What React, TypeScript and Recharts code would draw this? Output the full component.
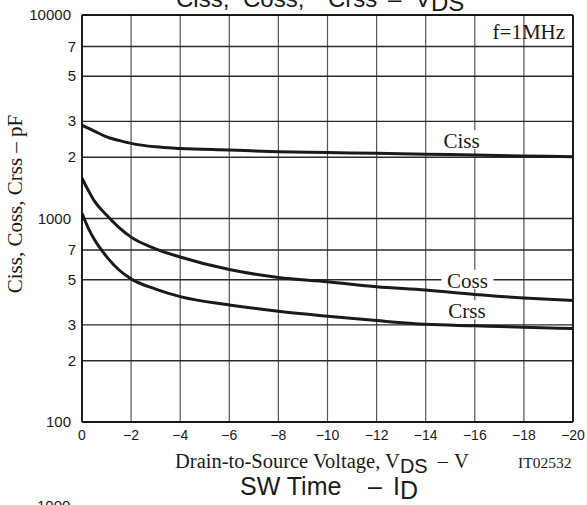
import React from "react";
import { CartesianGrid, Line, LineChart, ReferenceDot, XAxis, YAxis } from "recharts";

// drain-source voltage (V) and capacitances (pF)
const vds = [0, -0.25, -0.5, -1, -1.5, -2, -3, -4, -6, -8, -10, -12, -14, -16, -18, -20];
const ciss = [2870, 2780, 2690, 2520, 2420, 2340, 2250, 2210, 2170, 2130, 2110, 2090, 2070, 2050, 2030, 2010];
const coss = [1580, 1380, 1220, 1040, 905, 810, 710, 647, 561, 513, 489, 462, 445, 423, 407, 395];
const crss = [1060, 900, 790, 650, 560, 505, 450, 413, 376, 350, 331, 315, 302, 297, 292, 288];

const xTicks = [0, -2, -4, -6, -8, -10, -12, -14, -16, -18, -20];
const yTicks = [100, 200, 300, 500, 700, 1000, 2000, 3000, 5000, 7000, 10000];

const data = vds.map((v, i) => ({ v, ciss: ciss[i], coss: coss[i], crss: crss[i] }));

const SANS = "'Liberation Sans', Arial, sans-serif";
const SERIF = "'Liberation Serif', 'Times New Roman', serif";
const INK = "#1a1a1a";

const isDecade = (v: number) => v === 100 || v === 1000 || v === 10000;
const fmtY = (v: number) => (isDecade(v) ? String(v) : String(Math.round(v / Math.pow(10, Math.floor(Math.log10(v))))));
const fmtX = (v: number) => (v === 0 ? "0" : "\u2212" + Math.abs(v));

const YTick = ({ x, y, payload }: any) => (
  <text x={isDecade(payload.value) ? x - 5 : x} y={y} dy={5} textAnchor="end" fontFamily={SANS} fontSize={15} fill={INK}>
    {fmtY(payload.value)}
  </text>
);

function tag(text: string, w: number) {
  return (p: any) => (
    <g>
      <rect x={p.cx - w / 2} y={p.cy - 11} width={w} height={19} fill="#fff" />
      <text x={p.cx} y={p.cy + 7} textAnchor="middle" fontFamily={SERIF} fontSize={21} fill={INK}>
        {text}
      </text>
    </g>
  );
}

export default function App() {
  return (
    <div style={{ position: "absolute", left: 0, top: 0, width: 587, height: 505, background: "#fff" }}>
      <LineChart width={587} height={505} data={data} margin={{ top: 15, right: 14, bottom: 0, left: 0 }}>
        <CartesianGrid stroke="#555" strokeWidth={1.2} horizontal={false} />
        <CartesianGrid stroke="#2a2a2a" strokeWidth={1.4} vertical={false} />
        <XAxis
          dataKey="v"
          type="number"
          domain={[-20, 0]}
          reversed
          ticks={xTicks}
          tickFormatter={fmtX}
          interval={0}
          height={83}
          tickSize={0}
          tickMargin={8}
          axisLine={{ stroke: "#000", strokeWidth: 1.6 }}
          tick={{ fill: INK, fontSize: 14, fontFamily: SANS }}
          allowDataOverflow
        />
        <YAxis
          type="number"
          scale="log"
          domain={[100, 10000]}
          ticks={yTicks}
          interval={0}
          width={82}
          tickSize={0}
          tickMargin={6}
          axisLine={{ stroke: "#000", strokeWidth: 1.6 }}
          tick={<YTick />}
          allowDataOverflow
        />
        <Line dataKey="ciss" type="monotone" stroke={INK} strokeWidth={3} dot={false} isAnimationActive={false} />
        <Line dataKey="coss" type="monotone" stroke={INK} strokeWidth={3} dot={false} isAnimationActive={false} />
        <Line dataKey="crss" type="monotone" stroke={INK} strokeWidth={3} dot={false} isAnimationActive={false} />
        <ReferenceDot x={-15.46} y={2400} r={0} shape={tag("Ciss", 44)} ifOverflow="visible" />
        <ReferenceDot x={-15.7} y={494} r={0} shape={tag("Coss", 52)} ifOverflow="visible" />
        <ReferenceDot x={-15.68} y={350} r={0} shape={tag("Crss", 46)} ifOverflow="visible" />
        <ReferenceDot
          x={-18.2}
          y={8225}
          r={0}
          ifOverflow="visible"
          shape={(p: any) => (
            <text x={p.cx} y={p.cy + 7} textAnchor="middle" fontFamily={SERIF} fontSize={21} fill={INK}>
              f=1MHz
            </text>
          )}
        />
        <line x1={573} y1={15} x2={573} y2={422} stroke="#000" strokeWidth={1.6} />
        <line x1={82} y1={15} x2={573} y2={15} stroke="#000" strokeWidth={1.6} />
      </LineChart>
      <svg width={587} height={505} style={{ position: "absolute", left: 0, top: 0, pointerEvents: "none" }}>
        <text y={7} fontFamily={SANS} fontSize={24} fill={INK}>
          <tspan x={176}>Ciss,</tspan>
          <tspan x={243}>Coss,</tspan>
          <tspan x={328}>Crss</tspan>
          <tspan x={388}>{"\u2013"}</tspan>
          <tspan x={415}>V</tspan>
          <tspan dy={4}>DS</tspan>
        </text>
        <text x={175} y={467.5} fontFamily={SERIF} fontSize={20.5} fill={INK}>
          Drain-to-Source Voltage, V
          <tspan dy={5} fontFamily={SANS} fontSize={20}>DS</tspan>
          <tspan dy={-5} dx={10}>{"\u2013"}</tspan>
          <tspan dx={6}>V</tspan>
        </text>
        <text x={518} y={467.5} fontFamily={SERIF} fontSize={15.5} fill={INK}>
          IT02532
        </text>
        <text transform="translate(22,204) rotate(-90)" textAnchor="middle" fontFamily={SERIF} fontSize={21} fill={INK}>
          {"Ciss, Coss, Crss \u2013 pF"}
        </text>
        <text y={495} fontFamily={SANS} fontSize={25} fill={INK}>
          <tspan x={240}>SW Time</tspan>
          <tspan x={368}>{"\u2013"}</tspan>
          <tspan x={393}>I</tspan>
          <tspan dy={3.5}>D</tspan>
        </text>
        <text x={37} y={511} fontFamily={SANS} fontSize={15} fill={INK}>
          1000
        </text>
      </svg>
    </div>
  );
}
